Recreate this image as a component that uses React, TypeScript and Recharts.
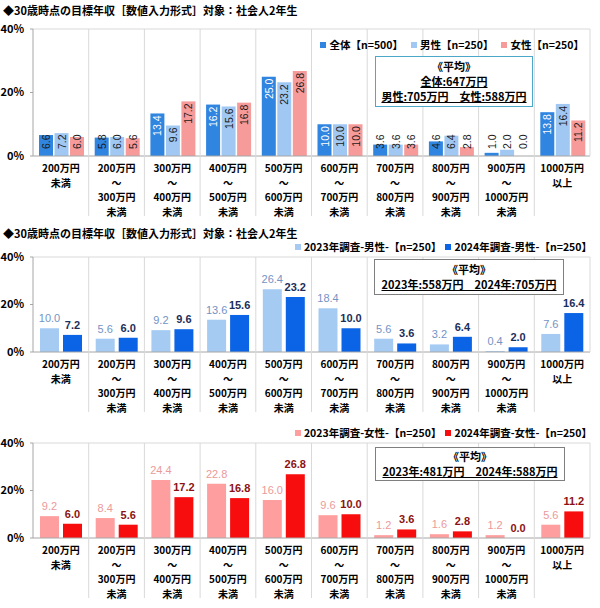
import { BarChart, Bar, XAxis, YAxis, LabelList, ReferenceLine } from "recharts";

const categories = [
  "200万円\n未満",
  "200万円\n～\n300万円\n未満",
  "300万円\n～\n400万円\n未満",
  "400万円\n～\n500万円\n未満",
  "500万円\n～\n600万円\n未満",
  "600万円\n～\n700万円\n未満",
  "700万円\n～\n800万円\n未満",
  "800万円\n～\n900万円\n未満",
  "900万円\n～\n1000万円\n未満",
  "1000万円\n以上",
];

// panel 1: 全体 / 男性 / 女性
const totalShare = [6.6, 5.8, 13.4, 16.2, 25.0, 10.0, 3.6, 4.6, 1.0, 13.8];
const maleShare = [7.2, 6.0, 9.6, 15.6, 23.2, 10.0, 3.6, 6.4, 2.0, 16.4];
const femaleShare = [6.0, 5.6, 17.2, 16.8, 26.8, 10.0, 3.6, 2.8, 0.0, 11.2];

// panel 2: 男性 2023 vs 2024
const male2023 = [10.0, 5.6, 9.2, 13.6, 26.4, 18.4, 5.6, 3.2, 0.4, 7.6];
const male2024 = [7.2, 6.0, 9.6, 15.6, 23.2, 10.0, 3.6, 6.4, 2.0, 16.4];

// panel 3: 女性 2023 vs 2024
const female2023 = [9.2, 8.4, 24.4, 22.8, 16.0, 9.6, 1.2, 1.6, 1.2, 5.6];
const female2024 = [6.0, 5.6, 17.2, 16.8, 26.8, 10.0, 3.6, 2.8, 0.0, 11.2];

const yTicks = [0, 20, 40];

const TITLE = "◆30歳時点の目標年収［数値入力形式］対象：社会人2年生";

const JP = '"Noto Sans CJK JP", "Noto Sans", sans-serif';
const NUM = '"Liberation Sans", Arial, sans-serif';

const PLOT_LEFT = 33;
const PLOT_RIGHT = 10;
const PLOT_W = 600 - PLOT_LEFT - PLOT_RIGHT;
const BAND = PLOT_W / categories.length;
const GRID = "#D9D9D9";
const AXIS = "#A6A6A6";

const panel1 = categories.map((name, i) => ({
  name,
  total: totalShare[i],
  male: maleShare[i],
  female: femaleShare[i],
}));
const panel2 = categories.map((name, i) => ({ name, y2023: male2023[i], y2024: male2024[i] }));
const panel3 = categories.map((name, i) => ({ name, y2023: female2023[i], y2024: female2024[i] }));

const fmt = (v: any) => Number(v).toFixed(1);

function CategoryTick(props: any) {
  const { x, y, payload, index, plotHeight } = props;
  const lines = String(payload.value).split("\n");
  const bx = x + BAND / 2;
  const last = index === categories.length - 1;
  return (
    <g>
      <line
        x1={bx}
        x2={bx}
        y1={y - plotHeight}
        y2={last ? y : y + 60}
        stroke={GRID}
        strokeWidth={1}
      />
      <text textAnchor="middle" fontFamily={JP} fontSize={10} fontWeight={700} fill="#000">
        {lines.map((l, i) => (
          <tspan key={i} x={x} y={y + 16 + i * 14.5}>
            {l}
          </tspan>
        ))}
      </text>
    </g>
  );
}

function innerLabel(insideColor: string) {
  return (props: any) => {
    const { x, y, width, height, value } = props;
    const base = y + height;
    const text = fmt(value);
    const len = text.length * 5.2;
    const wanted = y + 2;
    const limit = base - len - 6;
    const top = Math.min(wanted, limit);
    const fits = wanted <= limit;
    return (
      <text
        transform={`translate(${x + width / 2}, ${top}) rotate(-90)`}
        textAnchor="end"
        dominantBaseline="central"
        fontFamily={NUM}
        fontSize={10.5}
        fill={fits ? insideColor : "#1a1a1a"}
      >
        {text}
      </text>
    );
  };
}

function yAxis() {
  return (
    <YAxis
      type="number"
      domain={[0, 40]}
      ticks={yTicks}
      tickFormatter={(v) => `${v}%`}
      width={PLOT_LEFT}
      tickSize={3}
      tickMargin={6}
      axisLine={{ stroke: AXIS }}
      tickLine={{ stroke: AXIS }}
      tick={{ fill: "#000", fontSize: 11, fontWeight: 700, fontFamily: JP }}
    />
  );
}

function xAxis(plotHeight: number, height: number) {
  return (
    <XAxis
      dataKey="name"
      interval={0}
      height={height}
      tickSize={0}
      tickMargin={0}
      tickLine={false}
      axisLine={{ stroke: AXIS }}
      tick={<CategoryTick plotHeight={plotHeight} />}
    />
  );
}

function Legend({ items, style }: { items: { label: string; color: string }[]; style: any }) {
  return (
    <div
      style={{
        position: "absolute",
        display: "flex",
        alignItems: "center",
        gap: 8,
        fontFamily: JP,
        fontSize: 10.5,
        fontWeight: 700,
        lineHeight: "14px",
        whiteSpace: "nowrap",
        ...style,
      }}
    >
      {items.map((it) => (
        <span key={it.label} style={{ display: "flex", alignItems: "center" }}>
          <span style={{ width: 6, height: 6, background: it.color, marginRight: 3 }} />
          {it.label}
        </span>
      ))}
    </div>
  );
}

function AvgBox({ lines, border, style }: { lines: { text: string; u: boolean }[]; border: string; style: any }) {
  return (
    <div
      style={{
        position: "absolute",
        border: `1px solid ${border}`,
        background: "#fff",
        boxSizing: "border-box",
        display: "flex",
        flexDirection: "column",
        alignItems: "center",
        justifyContent: "center",
        fontFamily: JP,
        fontSize: 11,
        fontWeight: 700,
        lineHeight: "15px",
        color: "#000",
        ...style,
      }}
    >
      {lines.map((l) => (
        <div key={l.text} style={{ textDecoration: l.u ? "underline" : "none", whiteSpace: "pre" }}>
          {l.text}
        </div>
      ))}
    </div>
  );
}

const titleStyle: any = {
  position: "absolute",
  left: 3,
  fontFamily: JP,
  fontSize: 11,
  fontWeight: 700,
  lineHeight: "14px",
  whiteSpace: "nowrap",
  color: "#000",
};

export default function App() {
  return (
    <div
      style={{
        position: "absolute",
        left: 0,
        top: 0,
        width: 600,
        height: 608,
        background: "#fff",
        overflow: "hidden",
      }}
    >
      {/* panel 1 */}
      <div style={{ position: "absolute", left: 0, top: 0 }}>
        <BarChart
          width={600}
          height={222}
          data={panel1}
          margin={{ top: 29, right: PLOT_RIGHT, bottom: 0, left: 0 }}
          barCategoryGap={6}
          barGap={1.5}
        >
          {xAxis(127, 66)}
          {yAxis()}
          <ReferenceLine y={40} stroke={GRID} />
          <Bar dataKey="total" fill="#2F85E0" minPointSize={0.01} isAnimationActive={false}>
            <LabelList dataKey="total" content={innerLabel("#ffffff")} />
          </Bar>
          <Bar dataKey="male" fill="#A0C8F2" minPointSize={0.01} isAnimationActive={false}>
            <LabelList dataKey="male" content={innerLabel("#1a1a1a")} />
          </Bar>
          <Bar dataKey="female" fill="#F79A9A" minPointSize={0.01} isAnimationActive={false}>
            <LabelList dataKey="female" content={innerLabel("#1a1a1a")} />
          </Bar>
        </BarChart>
      </div>
      <div style={{ ...titleStyle, top: 3 }}>{TITLE}</div>
      <Legend
        items={[
          { label: "全体【n=500】", color: "#2F85E0" },
          { label: "男性【n=250】", color: "#A0C8F2" },
          { label: "女性【n=250】", color: "#F79A9A" },
        ]}
        style={{ top: 38, right: 16 }}
      />
      <AvgBox
        border="#4BA8C8"
        lines={[
          { text: "《平均》", u: false },
          { text: "全体:647万円", u: true },
          { text: "男性:705万円　女性:588万円", u: true },
        ]}
        style={{ left: 375, top: 56, width: 158, height: 51 }}
      />

      {/* panel 2 */}
      <div style={{ position: "absolute", left: 0, top: 200 }}>
        <BarChart
          width={600}
          height={222}
          data={panel2}
          margin={{ top: 57, right: PLOT_RIGHT, bottom: 0, left: 0 }}
          barCategoryGap={7}
          barGap={4}
        >
          {xAxis(95, 70)}
          {yAxis()}
          <ReferenceLine y={40} stroke={GRID} />
          <Bar dataKey="y2023" fill="#A5CBF3" minPointSize={0.01} isAnimationActive={false}>
            <LabelList
              dataKey="y2023"
              position="top"
              offset={6}
              formatter={fmt}
              fill="#7393C4"
              fontSize={11}
              fontFamily={NUM}
            />
          </Bar>
          <Bar dataKey="y2024" fill="#0B64E5" minPointSize={0.01} isAnimationActive={false}>
            <LabelList
              dataKey="y2024"
              position="top"
              offset={6}
              formatter={fmt}
              fill="#1B2E5A"
              fontSize={11}
              fontWeight={700}
              fontFamily={NUM}
            />
          </Bar>
        </BarChart>
      </div>
      <div style={{ ...titleStyle, top: 226 }}>{TITLE}</div>
      <Legend
        items={[
          { label: "2023年調査-男性-【n=250】", color: "#A5CBF3" },
          { label: "2024年調査-男性-【n=250】", color: "#0B64E5" },
        ]}
        style={{ top: 240, right: 8, gap: 4 }}
      />
      <AvgBox
        border="#7F7F7F"
        lines={[
          { text: "《平均》", u: false },
          { text: "2023年:558万円　2024年:705万円", u: true },
        ]}
        style={{ left: 374, top: 259, width: 190, height: 36 }}
      />

      {/* panel 3 */}
      <div style={{ position: "absolute", left: 0, top: 400 }}>
        <BarChart
          width={600}
          height={208}
          data={panel3}
          margin={{ top: 43, right: PLOT_RIGHT, bottom: 0, left: 0 }}
          barCategoryGap={7}
          barGap={4}
        >
          {xAxis(95, 70)}
          {yAxis()}
          <ReferenceLine y={40} stroke={GRID} />
          <Bar dataKey="y2023" fill="#FF9E9E" minPointSize={0.01} isAnimationActive={false}>
            <LabelList
              dataKey="y2023"
              position="top"
              offset={6}
              formatter={fmt}
              fill="#EB9A9A"
              fontSize={11}
              fontFamily={NUM}
            />
          </Bar>
          <Bar dataKey="y2024" fill="#F70D0D" minPointSize={0.01} isAnimationActive={false}>
            <LabelList
              dataKey="y2024"
              position="top"
              offset={6}
              formatter={fmt}
              fill="#8C1212"
              fontSize={11}
              fontWeight={700}
              fontFamily={NUM}
            />
          </Bar>
        </BarChart>
      </div>
      <Legend
        items={[
          { label: "2023年調査-女性-【n=250】", color: "#FF9E9E" },
          { label: "2024年調査-女性-【n=250】", color: "#F70D0D" },
        ]}
        style={{ top: 426, right: 8, gap: 4 }}
      />
      <AvgBox
        border="#7F7F7F"
        lines={[
          { text: "《平均》", u: false },
          { text: "2023年:481万円　2024年:588万円", u: true },
        ]}
        style={{ left: 375, top: 447, width: 190, height: 34 }}
      />
    </div>
  );
}
